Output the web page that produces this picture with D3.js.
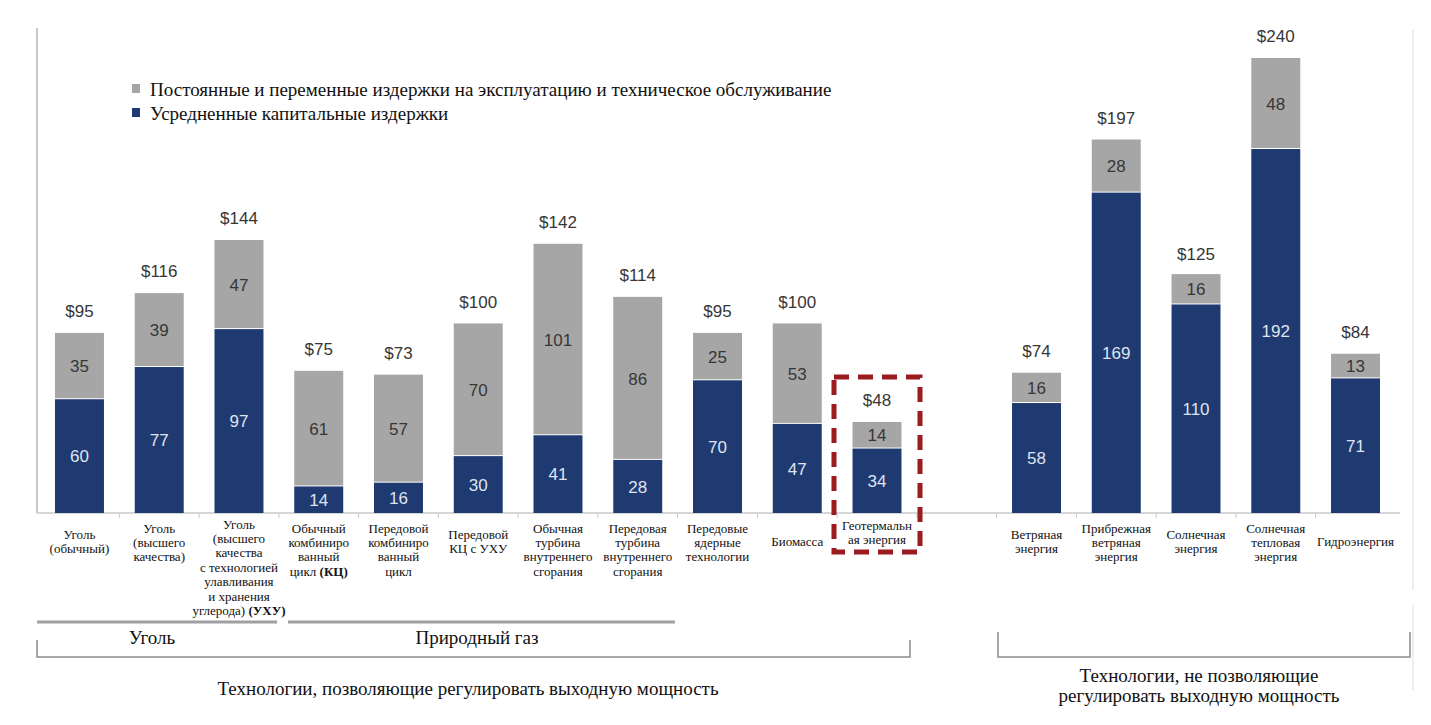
<!DOCTYPE html>
<html lang="ru">
<head>
  <meta charset="UTF-8">
  <script src="https://d3js.org/d3.v7.min.js"></script>
  <style>
    body { margin: 0; background: #fff; }
    svg { display: block; }
  </style>
</head>
<body>
  <script>
    const width = 1431;
    const height = 725;

    // categories (| = line break, *..* = bold)
    const leftCategories = [
      "Уголь|(обычный)",
      "Уголь|(высшего|качества)",
      "Уголь|(высшего|качества|с технологией|улавливания|и хранения|углерода) *(УХУ)*",
      "Обычный|комбиниро|ванный|цикл *(КЦ)*",
      "Передовой|комбиниро|ванный|цикл",
      "Передовой|КЦ с УХУ",
      "Обычная|турбина|внутреннего|сгорания",
      "Передовая|турбина|внутреннего|сгорания",
      "Передовые|ядерные|технологии",
      "Биомасса",
      "Геотермальн|ая энергия"
    ];
    const rightCategories = [
      "Ветряная|энергия",
      "Прибрежная|ветряная|энергия",
      "Солнечная|энергия",
      "Солнечная|тепловая|энергия",
      "Гидроэнергия"
    ];
    const capitalCosts = [60, 77, 97, 14, 16, 30, 41, 28, 70, 47, 34, 58, 169, 110, 192, 71];
    const omCosts = [35, 39, 47, 61, 57, 70, 101, 86, 25, 53, 14, 16, 28, 16, 48, 13];
    const totals = [95, 116, 144, 75, 73, 100, 142, 114, 95, 100, 48, 74, 197, 125, 240, 84];
    const legendLabels = [
      "Постоянные и переменные издержки на эксплуатацию и техническое обслуживание",
      "Усредненные капитальные издержки"
    ];

    const grey = "#a6a6a6";
    const navy = "#1f3a70";
    const serif = "'Liberation Serif', 'Times New Roman', serif";
    const sans = "'Liberation Sans', Arial, sans-serif";

    const categories = leftCategories.concat(rightCategories);
    const gapKey = "__gap__";
    const domain = leftCategories.concat([gapKey], rightCategories);

    const svg = d3.select("body").append("svg")
      .attr("width", width)
      .attr("height", height);

    const baseY = 513;
    const x = d3.scaleBand()
      .domain(domain)
      .range([39.6, 1395.4])
      .paddingInner(0.386)
      .paddingOuter(0.193);
    const y = d3.scaleLinear().domain([0, 240]).range([baseY, 58]);

    const data = categories.map((c, i) => ({
      cat: c, cap: capitalCosts[i], om: omCosts[i], total: totals[i]
    }));

    // frame lines
    svg.append("line").attr("x1", 37).attr("x2", 37).attr("y1", 28).attr("y2", baseY)
      .attr("stroke", "#c8c8c8").attr("stroke-width", 2);
    svg.append("line").attr("x1", 1413).attr("x2", 1413).attr("y1", 30).attr("y2", 590)
      .attr("stroke", "#eeeeee").attr("stroke-width", 2);
    svg.append("line").attr("x1", 1413).attr("x2", 1413).attr("y1", 605).attr("y2", 690)
      .attr("stroke", "#eeeeee").attr("stroke-width", 2);

    // x axis
    const xAxis = svg.append("g");
    xAxis.append("line").attr("x1", 37).attr("x2", 1400).attr("y1", baseY).attr("y2", baseY)
      .attr("stroke", "#c8c8c8").attr("stroke-width", 1.5);
    const step = x.step();
    xAxis.selectAll("line.tick")
      .data(domain.slice(1))
      .join("line")
      .attr("class", "tick")
      .attr("x1", d => x(d) - (step - x.bandwidth()) / 2)
      .attr("x2", d => x(d) - (step - x.bandwidth()) / 2)
      .attr("y1", baseY).attr("y2", baseY + 5)
      .attr("stroke", "#c8c8c8");

    const bars = svg.append("g").selectAll("g").data(data).join("g");

    bars.append("rect")
      .attr("x", d => x(d.cat))
      .attr("width", x.bandwidth())
      .attr("y", d => y(d.cap))
      .attr("height", d => baseY - y(d.cap))
      .attr("fill", navy);
    bars.append("rect")
      .attr("x", d => x(d.cat))
      .attr("width", x.bandwidth())
      .attr("y", d => y(d.cap + d.om))
      .attr("height", d => y(d.cap) - y(d.cap + d.om) - 1)
      .attr("fill", grey);

    const numFont = 17;
    bars.append("text")
      .attr("x", d => x(d.cat) + x.bandwidth() / 2)
      .attr("y", d => (y(d.cap) + baseY) / 2)
      .attr("dy", "0.36em")
      .attr("text-anchor", "middle")
      .attr("font-family", sans).attr("font-size", numFont)
      .attr("fill", "#dfe4f0")
      .text(d => d.cap);
    bars.append("text")
      .attr("x", d => x(d.cat) + x.bandwidth() / 2)
      .attr("y", d => (y(d.cap) + y(d.cap + d.om)) / 2)
      .attr("dy", "0.36em")
      .attr("text-anchor", "middle")
      .attr("font-family", sans).attr("font-size", numFont)
      .attr("fill", "#363636")
      .text(d => d.om);
    bars.append("text")
      .attr("x", d => x(d.cat) + x.bandwidth() / 2)
      .attr("y", d => y(d.total) - 22)
      .attr("dy", "0.36em")
      .attr("text-anchor", "middle")
      .attr("font-family", sans).attr("font-size", numFont)
      .attr("fill", "#363636")
      .text(d => "$" + d.total);

    // category labels
    const labels = svg.append("g").selectAll("text").data(data).join("text")
      .attr("text-anchor", "middle")
      .attr("font-family", serif).attr("font-size", 13)
      .attr("fill", "#111");
    labels.each(function (d) {
      const lines = d.cat.split("|");
      const n = lines.length;
      const y0 = n === 1 ? 541 : n === 2 ? (d.cat.startsWith("Геотерм") ? 525 : 534) : n === 7 ? 524 : 528;
      const t = d3.select(this);
      lines.forEach((ln, i) => {
        const tl = t.append("tspan")
          .attr("x", x(d.cat) + x.bandwidth() / 2)
          .attr("y", y0 + i * 14.4)
          .attr("dy", "0.35em");
        ln.split("*").forEach((part, j) => {
          if (!part) return;
          tl.append("tspan").attr("font-weight", j % 2 ? "bold" : null).text(part);
        });
      });
    });

    // highlight box around geothermal
    const geo = leftCategories[leftCategories.length - 1];
    svg.append("rect")
      .attr("x", x(geo) - 43 + x.bandwidth() / 2)
      .attr("width", 86)
      .attr("y", 377)
      .attr("height", 175)
      .attr("fill", "none")
      .attr("stroke", "#9b1b1e")
      .attr("stroke-width", 5)
      .attr("stroke-dasharray", "15,9");

    // legend
    const legend = svg.append("g");
    const legendColors = [grey, navy];
    legendLabels.forEach((l, i) => {
      legend.append("rect")
        .attr("x", 132).attr("y", 84 + i * 24)
        .attr("width", 8).attr("height", 9)
        .attr("fill", legendColors[i]);
      legend.append("text")
        .attr("x", 150).attr("y", 89 + i * 24)
        .attr("dy", "0.35em")
        .attr("font-family", serif).attr("font-size", 19)
        .attr("fill", "#111")
        .text(l);
    });

    // group brackets
    const g = svg.append("g").attr("fill", "none");
    g.append("line").attr("x1", 37).attr("x2", 277).attr("y1", 622).attr("y2", 622)
      .attr("stroke", "#a0a0a0").attr("stroke-width", 3);
    g.append("line").attr("x1", 288).attr("x2", 675).attr("y1", 622).attr("y2", 622)
      .attr("stroke", "#a0a0a0").attr("stroke-width", 3);
    g.append("path").attr("d", "M37,640V657H910V640")
      .attr("stroke", "#8c8c8c").attr("stroke-width", 1.5);
    g.append("path").attr("d", "M998,632V657H1410V632")
      .attr("stroke", "#8c8c8c").attr("stroke-width", 1.5);

    const groupText = [
      { t: "Уголь", x: 152, y: 637 },
      { t: "Природный газ", x: 477, y: 637 },
      { t: "Технологии, позволяющие регулировать выходную мощность", x: 468, y: 688 },
      { t: "Технологии, не позволяющие", x: 1199, y: 675 },
      { t: "регулировать выходную мощность", x: 1199, y: 695 }
    ];
    svg.append("g").selectAll("text").data(groupText).join("text")
      .attr("x", d => d.x).attr("y", d => d.y)
      .attr("dy", "0.35em")
      .attr("text-anchor", "middle")
      .attr("font-family", serif).attr("font-size", 19)
      .attr("fill", "#111")
      .text(d => d.t);
  </script>
</body>
</html>
